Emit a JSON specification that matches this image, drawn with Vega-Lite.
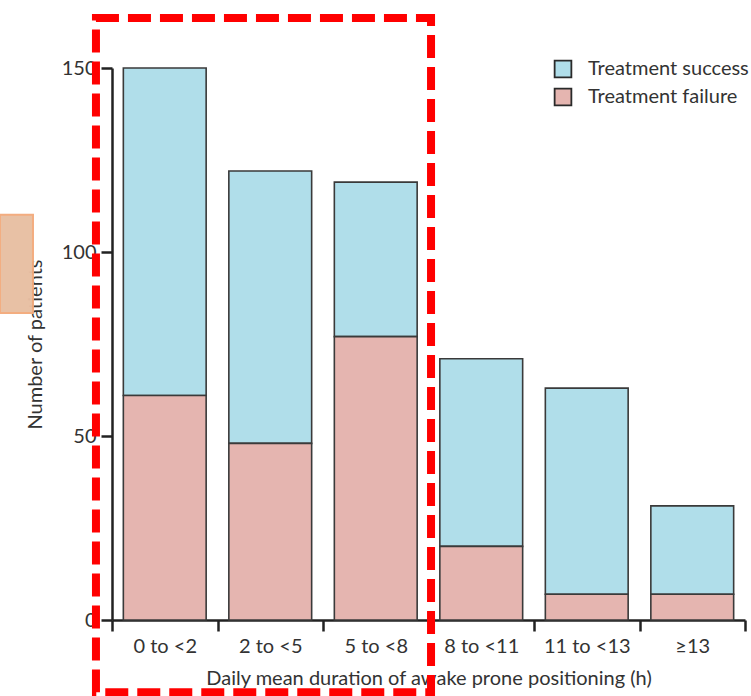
{
  "$schema": "https://vega.github.io/schema/vega-lite/v6.json",
  "width": 633,
  "height": 552,
  "autosize": {"type": "none"},
  "padding": {"left": 112, "top": 68, "right": 6, "bottom": 76},
  "background": "white",
  "config": {
    "font": "Lato",
    "view": {"stroke": null},
    "axis": {
      "domainColor": "#222",
      "domainWidth": 2.5,
      "tickColor": "#222",
      "tickWidth": 2.5,
      "tickSize": 11,
      "labelFontSize": 20,
      "labelColor": "#333",
      "titleFontSize": 20,
      "titleFontWeight": "normal",
      "titleColor": "#333",
      "grid": false
    }
  },
  "datasets": {
    "counts": [
      {"duration": "0 to <2", "outcome": "Treatment success", "patients": 89},
      {"duration": "0 to <2", "outcome": "Treatment failure", "patients": 61},
      {"duration": "2 to <5", "outcome": "Treatment success", "patients": 74},
      {"duration": "2 to <5", "outcome": "Treatment failure", "patients": 48},
      {"duration": "5 to <8", "outcome": "Treatment success", "patients": 42},
      {"duration": "5 to <8", "outcome": "Treatment failure", "patients": 77},
      {"duration": "8 to <11", "outcome": "Treatment success", "patients": 51},
      {"duration": "8 to <11", "outcome": "Treatment failure", "patients": 20},
      {"duration": "11 to <13", "outcome": "Treatment success", "patients": 56},
      {"duration": "11 to <13", "outcome": "Treatment failure", "patients": 7},
      {"duration": "≥13", "outcome": "Treatment success", "patients": 24},
      {"duration": "≥13", "outcome": "Treatment failure", "patients": 7}
    ],
    "highlight": [{"from": -0.152, "to": 3.024, "low": -19.6, "high": 163.6}],
    "marker": [{"from": -1.062, "to": -0.749, "low": 83.4, "high": 110.1}]
  },
  "layer": [
    {
      "data": {"name": "counts"},
      "mark": {"type": "bar", "width": {"band": 0.785}, "stroke": "#3a3a3a", "strokeWidth": 1.6},
      "encoding": {
        "x": {
          "field": "duration",
          "type": "nominal",
          "sort": null,
          "scale": {"paddingInner": 0, "paddingOuter": 0},
          "axis": {
            "title": "Daily mean duration of awake prone positioning (h)",
            "labelAngle": 0,
            "tickBand": "extent",
            "labelPadding": 5,
            "titlePadding": 12
          }
        },
        "y": {
          "field": "patients",
          "type": "quantitative",
          "stack": "zero",
          "scale": {"domain": [0, 150], "nice": false},
          "axis": {
            "title": "Number of patients",
            "values": [0, 50, 100, 150],
            "labelPadding": 5,
            "titlePadding": 16
          }
        },
        "color": {
          "field": "outcome",
          "type": "nominal",
          "scale": {
            "domain": ["Treatment success", "Treatment failure"],
            "range": ["#b0deea", "#e5b5b0"]
          },
          "legend": {
            "title": null,
            "orient": "none",
            "legendX": 441,
            "legendY": -9,
            "symbolType": "square",
            "symbolSize": 280,
            "symbolStrokeColor": "#2a2a2a",
            "symbolStrokeWidth": 1.8,
            "symbolOpacity": 1,
            "labelFontSize": 20,
            "labelColor": "#333",
            "labelOffset": 15,
            "labelLimit": 400,
            "rowPadding": 4
          }
        },
        "order": {"field": "outcome", "sort": "ascending"}
      }
    },
    {
      "data": {"name": "highlight"},
      "mark": {"type": "rect", "fill": null, "stroke": "#ff0000", "strokeWidth": 8, "strokeDash": [23, 9], "clip": false},
      "encoding": {
        "x": {"field": "from", "type": "quantitative", "scale": {"domain": [0, 6], "nice": false, "zero": false}, "axis": null},
        "x2": {"field": "to"},
        "y": {"field": "low", "type": "quantitative", "scale": {"domain": [0, 150], "nice": false}, "axis": null},
        "y2": {"field": "high"}
      }
    },
    {
      "data": {"name": "marker"},
      "mark": {"type": "rect", "fill": "#e8bfa3", "stroke": "#f3ab7c", "strokeWidth": 2, "opacity": 0.97, "clip": false},
      "encoding": {
        "x": {"field": "from", "type": "quantitative", "scale": {"domain": [0, 6], "nice": false, "zero": false}, "axis": null},
        "x2": {"field": "to"},
        "y": {"field": "low", "type": "quantitative", "scale": {"domain": [0, 150], "nice": false}, "axis": null},
        "y2": {"field": "high"}
      }
    }
  ],
  "resolve": {"scale": {"x": "independent", "y": "independent"}}
}
